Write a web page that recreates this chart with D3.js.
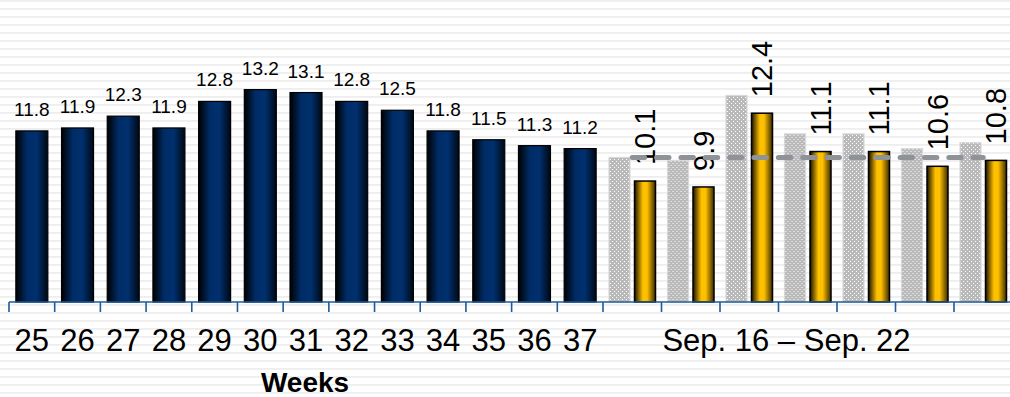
<!DOCTYPE html>
<html><head><meta charset="utf-8">
<script src="https://cdn.jsdelivr.net/npm/d3@7"></script>
<style>html,body{margin:0;padding:0;background:#fff;}svg{display:block;font-family:"Liberation Sans",Arial,sans-serif;}</style>
</head><body>
<svg id="c" width="1010" height="397"></svg>
<script>
// ---- data ----
const weeks = ["25","26","27","28","29","30","31","32","33","34","35","36","37"];
const weekValues = [11.8,11.9,12.3,11.9,12.8,13.2,13.1,12.8,12.5,11.8,11.5,11.3,11.2];
const days = ["Sep 16","Sep 17","Sep 18","Sep 19","Sep 20","Sep 21","Sep 22"];
const priorValues = [10.9,10.8,13.0,11.7,11.7,11.2,11.4];
const currentValues = [10.1,9.9,12.4,11.1,11.1,10.6,10.8];
const weekAverage = 10.9;
const dayRangeLabel = "Sep. 16 \u2013 Sep. 22";
const axisTitle = "Weeks";

// ---- layout ----
const W = 1010, H = 397, baseY = 302, topY = 7;
const svg = d3.select("#c");
const defs = svg.append("defs");

// background stripes
const bg = defs.append("pattern").attr("id","stripes").attr("width",10).attr("height",8).attr("patternUnits","userSpaceOnUse");
bg.append("rect").attr("width",10).attr("height",8).attr("fill","#fff");
bg.append("rect").attr("width",10).attr("height",1.8).attr("fill","#eeeeee");
svg.append("rect").attr("width",W).attr("height",H).attr("fill","url(#stripes)");

// dotted pattern for prior bars
const dp = defs.append("pattern").attr("id","dots").attr("width",4).attr("height",4).attr("patternUnits","userSpaceOnUse");
dp.append("rect").attr("width",4).attr("height",4).attr("fill","#b9b9b9");
dp.append("rect").attr("x",1).attr("y",1).attr("width",1).attr("height",1).attr("fill","#fff");
dp.append("rect").attr("x",3).attr("y",3).attr("width",1).attr("height",1).attr("fill","#fff");

function grad(id, stops){
  const g = defs.append("linearGradient").attr("id",id).attr("x1","0").attr("x2","1").attr("y1","0").attr("y2","0");
  stops.forEach(s=>g.append("stop").attr("offset",s[0]).attr("stop-color",s[1]));
}
grad("navy",[["0%","#000000"],["35%","#002c66"],["65%","#00306e"],["100%","#000814"]]);
grad("gold",[["0%","#1a1200"],["40%","#ffc000"],["60%","#ffc000"],["100%","#3a2a00"]]);

const y = d3.scaleLinear().domain([6,16]).range([baseY, topY]);

// first panel: weeks
const x1 = d3.scaleBand().domain(weeks).range([9,603]).paddingInner(0.3).paddingOuter(0.15);
// second panel: days
const x2 = d3.scaleBand().domain(days).range([603, 603 + 7*58.5]).padding(0);
const xs = d3.scaleBand().domain(["prior","current"]).range([0, x2.bandwidth()]).paddingInner(0.176).paddingOuter(0.235);

// week bars
svg.append("g").selectAll("rect").data(weeks).join("rect")
  .attr("x", d=>x1(d)).attr("width", x1.bandwidth())
  .attr("y", (d,i)=>y(weekValues[i])).attr("height",(d,i)=>baseY - y(weekValues[i]))
  .attr("fill","url(#navy)").attr("stroke","#000").attr("stroke-width",1.2);

svg.append("g").selectAll("text").data(weeks).join("text")
  .attr("x", d=>x1(d)+x1.bandwidth()/2).attr("y",(d,i)=>y(weekValues[i]) - 15)
  .attr("text-anchor","middle").attr("font-size",19).attr("fill","#000")
  .text((d,i)=>weekValues[i].toFixed(1));

// day groups
const gDays = svg.append("g").selectAll("g").data(days).join("g")
  .attr("transform", d=>`translate(${x2(d)},0)`);
gDays.append("rect")
  .attr("x", xs("prior")).attr("width", xs.bandwidth())
  .attr("y",(d,i)=>y(priorValues[i])).attr("height",(d,i)=>baseY - y(priorValues[i]))
  .attr("fill","url(#dots)").attr("stroke","#d9d9d9").attr("stroke-width",1.2);
gDays.append("rect")
  .attr("x", xs("current")).attr("width", xs.bandwidth())
  .attr("y",(d,i)=>y(currentValues[i])).attr("height",(d,i)=>baseY - y(currentValues[i]))
  .attr("fill","url(#gold)").attr("stroke","#000").attr("stroke-width",1.5);

// average dashed line (center of first group to center of last group)
svg.append("line")
  .attr("x1", x2(days[0]) + x2.bandwidth()/2).attr("x2", x2(days[days.length-1]) + x2.bandwidth()/2)
  .attr("y1", y(weekAverage)).attr("y2", y(weekAverage))
  .attr("stroke","#8f9398").attr("stroke-width",5).attr("stroke-linecap","round")
  .attr("stroke-dasharray","12.4 11.95");

// rotated labels
gDays.append("text")
  .attr("transform",(d,i)=>`translate(${xs("current")+xs.bandwidth()/2+10.4},${y(currentValues[i]) - 16}) rotate(-90)`)
  .attr("text-anchor","start").attr("font-size",29).attr("fill","#000")
  .text((d,i)=>currentValues[i].toFixed(1));

// axis
const axisColor = "#1f5b99";
svg.append("line").attr("x1",9).attr("x2",W).attr("y1",baseY).attr("y2",baseY)
  .attr("stroke",axisColor).attr("stroke-width",1.6);
const tickXs = weeks.map((d,i)=>x1.range()[0] + i*x1.step())
  .concat(days.map(d=>x2(d))).concat([x2.range()[1]]);
svg.append("g").selectAll("line").data(tickXs).join("line")
  .attr("x1",d=>d).attr("x2",d=>d).attr("y1",baseY).attr("y2",baseY+10)
  .attr("stroke",axisColor).attr("stroke-width",1.6);

svg.append("g").selectAll("text").data(weeks).join("text")
  .attr("x", d=>x1(d)+x1.bandwidth()/2).attr("y",351)
  .attr("text-anchor","middle").attr("font-size",31).attr("fill","#000").text(d=>d);
svg.append("text").attr("x",786.5).attr("y",351).attr("text-anchor","middle")
  .attr("font-size",31).attr("fill","#000").text(dayRangeLabel);
svg.append("text").attr("x",305).attr("y",392).attr("text-anchor","middle")
  .attr("font-size",28).attr("font-weight","bold").attr("fill","#000").text(axisTitle);
</script>
</body></html>
